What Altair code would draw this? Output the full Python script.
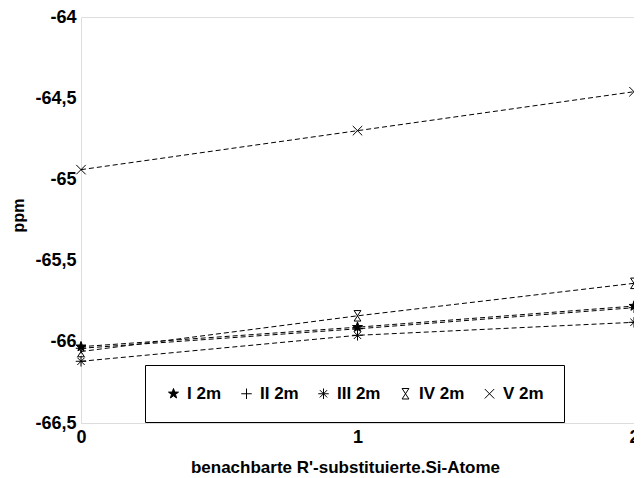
import altair as alt
import pandas as pd

x_values = [0, 1, 2]
series_names = ["I 2m", "II 2m", "III 2m", "IV 2m", "V 2m"]
s_I = [-66.03, -65.91, -65.78]
s_II = [-66.04, -65.92, -65.79]
s_III = [-66.12, -65.96, -65.88]
s_IV = [-66.06, -65.84, -65.64]
s_V = [-64.94, -64.70, -64.46]
y_ticks = [-66.5, -66, -65.5, -65, -64.5, -64]

rows = []
for name, vals in zip(series_names, [s_I, s_II, s_III, s_IV, s_V]):
    for xv, yv in zip(x_values, vals):
        rows.append({"x": xv, "ppm": yv, "series": name})
df = pd.DataFrame(rows)

star = ("M0,-1L0.235,-0.324L0.951,-0.309L0.38,0.124L0.588,0.809L0,0.4"
        "L-0.588,0.809L-0.38,0.124L-0.951,-0.309L-0.235,-0.324Z")
plus = "M-1,0L1,0M0,-1L0,1"
aster = "M-1,0L1,0M0,-1L0,1M-0.7,-0.7L0.7,0.7M-0.7,0.7L0.7,-0.7"
hourglass = "M-0.65,-1L0.65,-1L-0.65,1L0.65,1Z"
xmark = "M-0.9,-0.9L0.9,0.9M-0.9,0.9L0.9,-0.9"

FONT = "Liberation Sans"

xenc = alt.X("x:Q", scale=alt.Scale(domain=[0, 2], nice=False),
             axis=alt.Axis(values=x_values,
                           labelExpr="'' + round(datum.value)",
                           title="benachbarte R'-substituierte.Si-Atome",
                           ticks=False, grid=False, domain=False, labelFontSize=18,
                           labelFontWeight="bold", labelFont=FONT, labelPadding=5,
                           labelColor="black", titleFont=FONT, titleFontSize=17,
                           titleFontWeight="bold", titleColor="black",
                           titleX=264, titleY=49, titleBaseline="alphabetic",
                           labelFlush=False, labelOverlap=False, labelBound=False))
yenc = alt.Y("ppm:Q", scale=alt.Scale(domain=[-66.5, -64], nice=False, zero=False),
             axis=alt.Axis(values=y_ticks, title="ppm", ticks=False, grid=False,
                           domain=False, labelFontSize=18, labelFontWeight="bold",
                           labelFont=FONT, labelColor="black", labelPadding=5,
                           labelOverlap=False,
                           labelExpr="replace(datum.value + '', '.', ',')",
                           titleFont=FONT, titleFontSize=16, titleFontWeight="bold",
                           titleColor="black", titleX=-63, titleY=198,
                           titleBaseline="middle"))

lines = alt.Chart(df).mark_line(color="black", strokeWidth=1, strokeDash=[5, 3]).encode(
    x=xenc, y=yenc, detail="series:N")

points = alt.Chart(df).mark_point(strokeWidth=1, opacity=1, size=110).encode(
    x=xenc, y=yenc,
    shape=alt.Shape("series:N", title=None,
                    scale=alt.Scale(domain=series_names,
                                    range=[star, plus, aster, hourglass, xmark]),
                    legend=alt.Legend(orient="none", legendX=64, legendY=348,
                                      direction="horizontal", columns=5,
                                      strokeColor="black", fillColor="white",
                                      padding=20, labelFontSize=17, labelFont=FONT,
                                      labelFontWeight="bold",
                                      labelColor="black", symbolSize=110,
                                      symbolStrokeWidth=1,
                                      columnPadding=16, labelOffset=5)),
    fill=alt.Fill("series:N", title=None,
                  scale=alt.Scale(domain=series_names,
                                  range=["black", "transparent", "transparent",
                                         "transparent", "transparent"])),
    stroke=alt.Stroke("series:N", title=None,
                      scale=alt.Scale(domain=series_names,
                                      range=["black", "black", "black", "black", "black"])),
)

chart = alt.layer(lines, points).properties(
    width=553, height=406,
    autosize=alt.AutoSizeParams(type="none"),
    padding={"left": 73, "top": 9, "right": 0, "bottom": 53},
).configure_view(stroke="black", strokeWidth=1).configure(background="white")

chart.save("out.html", embed_options={"renderer": "svg", "actions": False})
